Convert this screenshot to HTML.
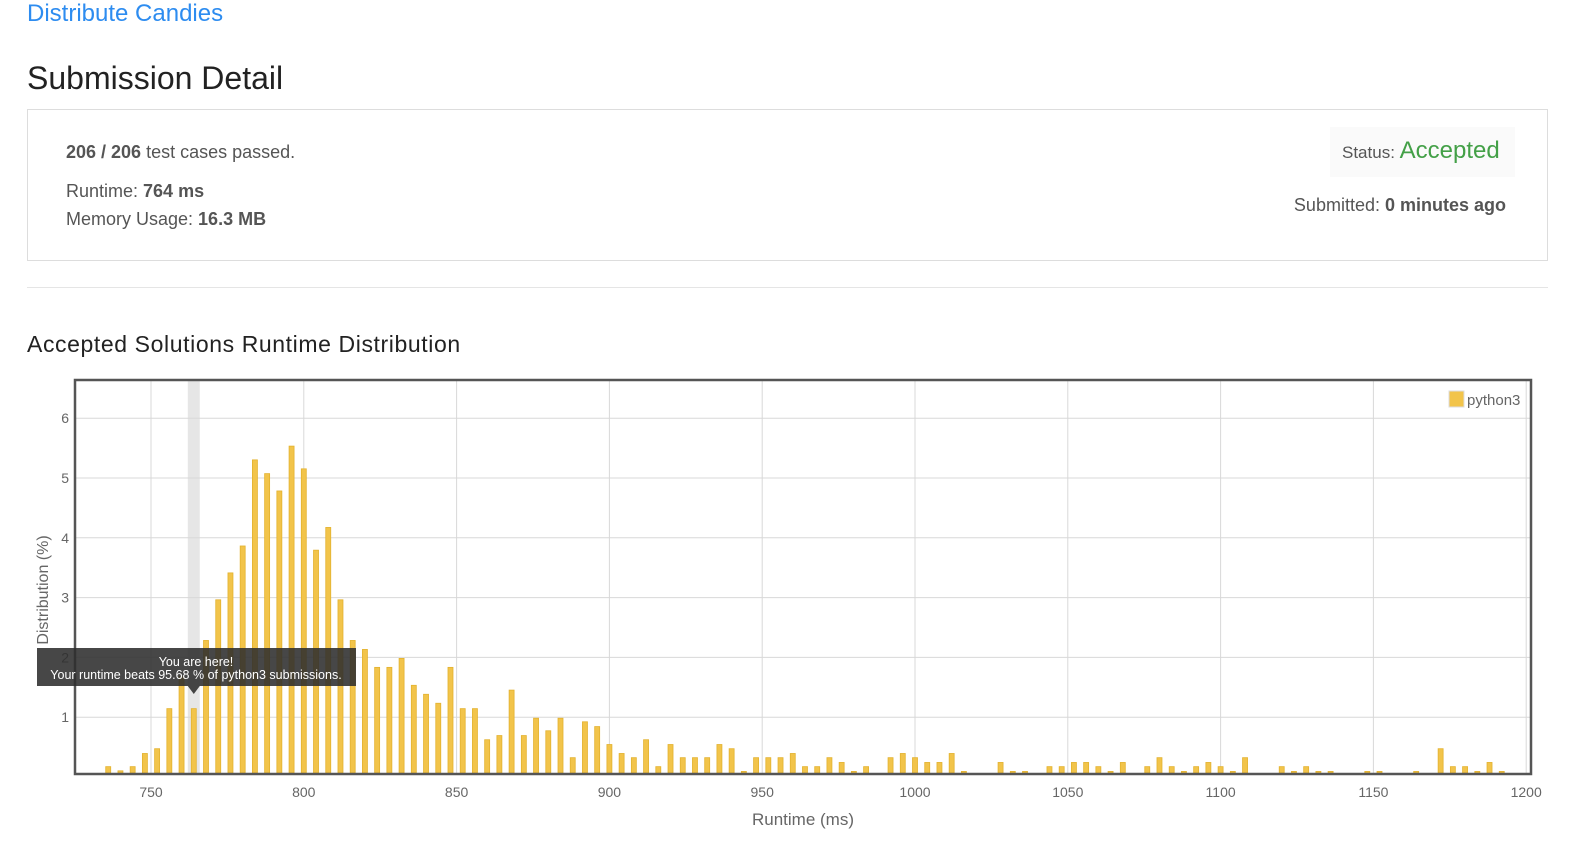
<!DOCTYPE html>
<html><head><meta charset="utf-8"><style>
body{margin:0;width:1586px;height:846px;background:#fff;font-family:"Liberation Sans",sans-serif;position:relative;overflow:hidden;color:#333}
.a{position:absolute;white-space:nowrap}
</style></head><body>
<div class="a" style="left:27px;top:0px;font-size:24px;color:#2d8cf0">Distribute Candies</div>
<div class="a" style="left:27px;top:60px;font-size:32px;color:#222">Submission Detail</div>
<div class="a" style="left:27px;top:109px;width:1519px;height:150px;border:1px solid #ddd"></div>
<div class="a" style="left:66px;top:142px;font-size:18px;color:#555"><b>206 / 206</b> test cases passed.</div>
<div class="a" style="left:66px;top:181px;font-size:18px;color:#555">Runtime: <b>764 ms</b></div>
<div class="a" style="left:66px;top:209px;font-size:18px;color:#555">Memory Usage: <b>16.3 MB</b></div>
<div class="a" style="left:1330px;top:127px;width:185px;height:50px;background:#fafafa"></div>
<div class="a" style="left:1342px;top:137px;font-size:17px;color:#555">Status: <span style="color:#43a047;font-size:24px">Accepted</span></div>
<div class="a" style="right:80px;top:195px;font-size:18px;color:#555">Submitted: <b>0 minutes ago</b></div>
<div class="a" style="left:27px;top:287px;width:1521px;height:1px;background:#e5e5e5"></div>
<div class="a" style="left:27px;top:331px;font-size:23px;letter-spacing:0.6px;color:#222">Accepted Solutions Runtime Distribution</div>
<svg class="a" style="left:0;top:0" width="1586" height="846" id="ch"></svg>
<script>
const runtimes=[736,740,744,748,752,756,760,764,768,772,776,780,784,788,792,796,800,804,808,812,816,820,824,828,832,836,840,844,848,852,856,860,864,868,872,876,880,884,888,892,896,900,904,908,912,916,920,924,928,932,936,940,944,948,952,956,960,964,968,972,976,980,984,992,996,1000,1004,1008,1012,1016,1028,1032,1036,1044,1048,1052,1056,1060,1064,1068,1076,1080,1084,1088,1092,1096,1100,1104,1108,1120,1124,1128,1132,1136,1148,1152,1164,1172,1176,1180,1184,1188,1192];
const distribution=[0.19,0.12,0.19,0.41,0.49,1.16,1.7,1.16,2.30,2.98,3.43,3.88,5.32,5.09,4.80,5.55,5.17,3.81,4.19,2.98,2.30,2.15,1.85,1.85,2.0,1.55,1.40,1.25,1.85,1.16,1.16,0.64,0.71,1.47,0.71,1.0,0.79,1.0,0.34,0.94,0.86,0.56,0.41,0.34,0.64,0.19,0.56,0.34,0.34,0.34,0.56,0.49,0.11,0.34,0.34,0.34,0.41,0.19,0.19,0.34,0.26,0.11,0.19,0.34,0.41,0.34,0.26,0.26,0.41,0.11,0.26,0.11,0.11,0.19,0.19,0.26,0.26,0.19,0.11,0.26,0.19,0.34,0.19,0.11,0.19,0.26,0.19,0.11,0.34,0.19,0.11,0.19,0.11,0.11,0.11,0.11,0.11,0.49,0.19,0.19,0.11,0.26,0.11];
const xTicks=[750,800,850,900,950,1000,1050,1100,1150,1200];
const yTicks=[1,2,3,4,5,6];
const myRuntime=764;
const NS='http://www.w3.org/2000/svg';
const svg=document.getElementById('ch');
const X=v=>151+(v-750)*3.056;
const Y=v=>778-59.8*v;
function mk(t,a,txt){const e=document.createElementNS(NS,t);for(const k in a)e.setAttribute(k,a[k]);if(txt!=null)e.textContent=txt;svg.appendChild(e);return e;}
const band=mk('rect',{x:X(myRuntime)-6,y:380,width:12,height:393,fill:'#e6e6e6'});


xTicks.forEach(t=>{
 const l=mk('line',{x1:X(t),x2:X(t),y1:380,y2:773,stroke:'#d8d8d8','stroke-width':1});
 
 
 const tx=mk('text',{x:X(t),y:797,'font-size':14,fill:'#666','text-anchor':'middle'},t);
 
 
});
yTicks.forEach(t=>{
 const l=mk('line',{x1:75,x2:1531,y1:Y(t)-1,y2:Y(t)-1,stroke:'#d8d8d8','stroke-width':1});
 
 
 const tx=mk('text',{x:69,y:Y(t)+4,'font-size':14,fill:'#666','text-anchor':'end'},t);
 
 
});
runtimes.forEach((r,i)=>{
 const top=Y(distribution[i]);
 const b=mk('rect',{x:X(r)-2.5,y:top,width:5,height:Math.max(0,773-top),fill:'#f2c44a',stroke:'#e3b22f','stroke-width':0.8});
 
 
});
const fr=mk('rect',{x:75,y:380,width:1456,height:394,fill:'none',stroke:'#555','stroke-width':2.5});


const lg=mk('rect',{x:1449,y:391,width:15,height:16,fill:'#f2c44a',stroke:'#ddd','stroke-width':1});


const lt=mk('text',{x:1467,y:405,'font-size':15,fill:'#666'},'python3');


const yt=mk('text',{x:0,y:0,'font-size':16,fill:'#666','text-anchor':'middle',transform:'translate(48,590) rotate(-90)'},'Distribution (%)');


const xt=mk('text',{x:803,y:825,'font-size':17,fill:'#666','text-anchor':'middle'},'Runtime (ms)');


const tip=mk('path',{d:'M37 648 H356 V686 H'+(X(myRuntime)+6)+' L'+X(myRuntime)+' 694 L'+(X(myRuntime)-6)+' 686 H37 Z',fill:'rgba(45,45,45,0.88)'});


const t1=mk('text',{x:196,y:666,'font-size':12.5,fill:'#fff','text-anchor':'middle'},'You are here!');


const t2=mk('text',{x:196,y:679,'font-size':12.5,fill:'#fff','text-anchor':'middle'},'Your runtime beats 95.68 % of python3 submissions.');


</script>
</body></html>
